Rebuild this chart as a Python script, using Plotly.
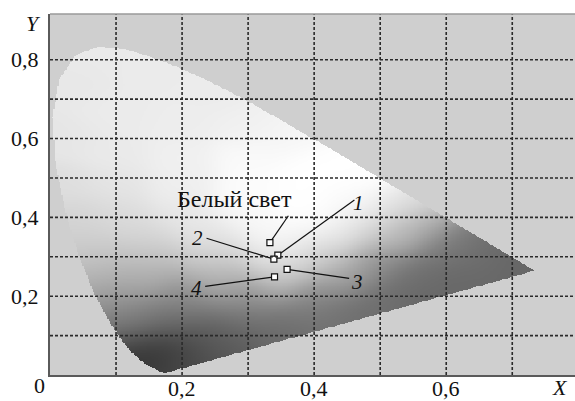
import numpy as np
import plotly.graph_objects as go

# CIE 1931 spectral locus (x, y), 380..700 nm
LOCUS_X = [0.1741, 0.1740, 0.1738, 0.1736, 0.1733, 0.1730, 0.1726, 0.1721, 0.1714, 0.1703,
           0.1689, 0.1669, 0.1644, 0.1611, 0.1566, 0.1510, 0.1440, 0.1355, 0.1241, 0.1096,
           0.0913, 0.0687, 0.0454, 0.0235, 0.0082, 0.0039, 0.0139, 0.0389, 0.0743, 0.1142,
           0.1547, 0.1929, 0.2296, 0.2658, 0.3016, 0.3373, 0.3731, 0.4087, 0.4441, 0.4788,
           0.5125, 0.5448, 0.5752, 0.6029, 0.6270, 0.6482, 0.6658, 0.6801, 0.6915, 0.7006,
           0.7079, 0.7140, 0.7190, 0.7230, 0.7260, 0.7283, 0.7300, 0.7311, 0.7320, 0.7334,
           0.7344, 0.7347]
LOCUS_Y = [0.0050, 0.0050, 0.0049, 0.0049, 0.0048, 0.0048, 0.0048, 0.0048, 0.0051, 0.0058,
           0.0069, 0.0086, 0.0109, 0.0138, 0.0177, 0.0227, 0.0297, 0.0399, 0.0578, 0.0868,
           0.1327, 0.2007, 0.2950, 0.4127, 0.5384, 0.6548, 0.7502, 0.8120, 0.8338, 0.8262,
           0.8059, 0.7816, 0.7543, 0.7243, 0.6923, 0.6589, 0.6245, 0.5896, 0.5547, 0.5202,
           0.4866, 0.4544, 0.4242, 0.3965, 0.3725, 0.3514, 0.3340, 0.3197, 0.3083, 0.2993,
           0.2920, 0.2859, 0.2809, 0.2770, 0.2740, 0.2717, 0.2700, 0.2689, 0.2680, 0.2666,
           0.2656, 0.2653]

# Marked points
PT_NAMES = ["Белый свет", "1", "2", "3", "4"]
PT_X = [0.333, 0.345, 0.339, 0.359, 0.340]
PT_Y = [0.336, 0.304, 0.294, 0.268, 0.249]
# label positions and leader-line ends
LBL_X = [0.280, 0.467, 0.224, 0.465, 0.222]
LBL_Y = [0.446, 0.437, 0.348, 0.235, 0.220]
LEAD_X = [0.361, 0.461, 0.237, 0.453, 0.235]
LEAD_Y = [0.404, 0.444, 0.347, 0.245, 0.225]

GRID_X = [0.1, 0.2, 0.3, 0.4, 0.5, 0.6, 0.7]
GRID_Y = [0.1, 0.2, 0.3, 0.4, 0.5, 0.6, 0.7, 0.8]
XTICK_VALS = [0.2, 0.4, 0.6]
XTICK_TEXT = ["0,2", "0,4", "0,6"]
YTICK_VALS = [0.2, 0.4, 0.6, 0.8]
YTICK_TEXT = ["0,2", "0,4", "0,6", "0,8"]

# grey shading anchors of the printed diagram (x, y, grey level)
SHADE = [
    (0.07, 0.82, 234), (0.15, 0.78, 235), (0.03, 0.74, 232), (0.25, 0.72, 236),
    (0.10, 0.66, 235), (0.20, 0.63, 237), (0.30, 0.63, 240), (0.36, 0.60, 246),
    (0.02, 0.60, 230), (0.10, 0.56, 234), (0.20, 0.55, 240), (0.30, 0.55, 250),
    (0.40, 0.53, 255), (0.46, 0.50, 255), (0.02, 0.48, 222), (0.10, 0.48, 228),
    (0.20, 0.48, 238), (0.30, 0.47, 252), (0.38, 0.46, 255), (0.46, 0.45, 250),
    (0.52, 0.42, 225), (0.04, 0.40, 212), (0.10, 0.40, 220), (0.20, 0.40, 232),
    (0.30, 0.40, 248), (0.40, 0.40, 255), (0.47, 0.39, 238), (0.55, 0.37, 172),
    (0.06, 0.35, 206), (0.15, 0.35, 214), (0.25, 0.35, 228), (0.35, 0.35, 248),
    (0.43, 0.35, 234), (0.50, 0.35, 188), (0.60, 0.32, 124), (0.07, 0.30, 196),
    (0.15, 0.30, 194), (0.25, 0.30, 207), (0.35, 0.30, 230), (0.42, 0.30, 202),
    (0.50, 0.29, 142), (0.65, 0.295, 108), (0.71, 0.275, 102), (0.08, 0.25, 178),
    (0.15, 0.25, 172), (0.25, 0.25, 177), (0.35, 0.25, 200), (0.45, 0.25, 162),
    (0.55, 0.25, 114), (0.62, 0.25, 104), (0.10, 0.20, 152), (0.20, 0.20, 142),
    (0.30, 0.20, 152), (0.40, 0.20, 142), (0.50, 0.20, 110), (0.57, 0.21, 102),
    (0.12, 0.15, 128), (0.20, 0.15, 114), (0.30, 0.15, 118), (0.40, 0.15, 118),
    (0.45, 0.15, 110), (0.13, 0.10, 104), (0.20, 0.10, 86), (0.28, 0.10, 96),
    (0.36, 0.10, 108), (0.14, 0.055, 60), (0.155, 0.04, 34), (0.19, 0.05, 64),
    (0.25, 0.06, 88), (0.175, 0.012, 72), (0.21, 0.025, 82),
]

XMAX = 0.795
YMAX = 0.916

# shading raster
gx = np.arange(0.0, 0.7401, 0.002)
gy = np.arange(0.0, 0.8401, 0.002)
GX, GY = np.meshgrid(gx, gy)
S = np.array(SHADE, dtype=float)
sig = 0.035
num = np.zeros_like(GX)
den = np.zeros_like(GX)
for ax_, ay_, g in S:
    w = np.exp(-((GX - ax_) ** 2 + (GY - ay_) ** 2) / (2 * sig ** 2))
    num += w * g
    den += w
Z = num / np.maximum(den, 1e-12)

# mask outside locus
px = np.array(LOCUS_X)
py = np.array(LOCUS_Y)
inside = np.zeros(GX.shape, dtype=bool)
n = len(px)
j = n - 1
for i in range(n):
    xi, yi, xj, yj = px[i], py[i], px[j], py[j]
    dy = yj - yi
    if dy == 0:
        dy = 1e-12
    cond = ((yi > GY) != (yj > GY)) & (GX < (xj - xi) * (GY - yi) / dy + xi)
    inside ^= cond
    j = i
Z = np.round(Z).astype(float)
Z[~inside] = np.nan

fig = go.Figure()
fig.add_trace(go.Heatmap(
    x=gx, y=gy, z=Z, zmin=0, zmax=255,
    colorscale=[[0, "rgb(0,0,0)"], [1, "rgb(255,255,255)"]],
    showscale=False, hoverinfo="skip", zsmooth=False,
))

# leader lines
for i in range(len(PT_NAMES)):
    fig.add_trace(go.Scatter(
        x=[PT_X[i], LEAD_X[i]], y=[PT_Y[i], LEAD_Y[i]], mode="lines",
        line=dict(color="#111", width=1.2), showlegend=False, hoverinfo="skip",
    ))
fig.add_trace(go.Scatter(
    x=PT_X, y=PT_Y, mode="markers",
    marker=dict(symbol="square", size=6, color="white", line=dict(color="#111", width=1.2)),
    showlegend=False, hoverinfo="skip",
))

serif = "Times New Roman, Liberation Serif, serif"
for i, name in enumerate(PT_NAMES):
    italic = name.isdigit()
    fig.add_annotation(
        x=LBL_X[i], y=LBL_Y[i], xref="x", yref="y", showarrow=False,
        text=("<i>%s</i>" % name) if italic else name,
        font=dict(family=serif, size=21 if italic else 24, color="#111"),
        xanchor="center", yanchor="middle",
    )

# x tick labels
for v, t in zip(XTICK_VALS, XTICK_TEXT):
    fig.add_annotation(x=v, y=0, xref="x", yref="y", text=t, showarrow=False,
                       font=dict(family=serif, size=22, color="#111"),
                       xanchor="center", yanchor="middle", yshift=-13)

shapes = []
for gxv in GRID_X:
    shapes.append(dict(type="line", xref="x", yref="y", x0=gxv, x1=gxv, y0=0, y1=YMAX,
                       line=dict(color="#2a2a2a", width=1.6, dash="3px,2px"), layer="above"))
for gyv in GRID_Y:
    shapes.append(dict(type="line", xref="x", yref="y", x0=0, x1=XMAX, y0=gyv, y1=gyv,
                       line=dict(color="#2a2a2a", width=1.6, dash="3px,2px"), layer="above"))
shapes.append(dict(type="line", xref="paper", yref="paper", x0=0, x1=1, y0=1, y1=1,
                   line=dict(color="#9a9a9a", width=1.5), layer="above"))
fig.update_layout(shapes=shapes)

fig.add_annotation(x=0, y=0, xref="x", yref="y", text="0", showarrow=False,
                   font=dict(family=serif, size=22, color="#111"),
                   xanchor="center", yanchor="middle", xshift=-11, yshift=-10)
fig.add_annotation(x=0, y=YMAX, xref="x", yref="y", text="<i>Y</i>", showarrow=False,
                   font=dict(family=serif, size=22, color="#111"),
                   xanchor="center", yanchor="middle", xshift=-17, yshift=-9)
fig.add_annotation(x=XMAX, y=0, xref="x", yref="y", text="<i>X</i>", showarrow=False,
                   font=dict(family=serif, size=22, color="#111"),
                   xanchor="center", yanchor="middle", xshift=-15, yshift=-12)

fig.update_xaxes(range=[0, XMAX], showticklabels=False,
                 showgrid=False, zeroline=False, showline=True, linecolor="#5a5a5a",
                 linewidth=2, ticks="", automargin=False)
fig.update_yaxes(range=[0, YMAX], tickvals=YTICK_VALS, ticktext=YTICK_TEXT,
                 showgrid=False, zeroline=False, showline=True, linecolor="#5a5a5a",
                 linewidth=2, ticks="", tickfont=dict(family=serif, size=22, color="#111"),
                 ticklabelstandoff=5, automargin=False)
fig.update_layout(
    width=575, height=401, margin=dict(l=50, r=0, t=14, b=26),
    paper_bgcolor="white", plot_bgcolor="#cfcfcf", showlegend=False,
    font=dict(family=serif),
)
fig.write_html("out.html", config={"displayModeBar": False},
               post_script="document.body.style.margin='0';document.body.style.overflow='hidden';")
